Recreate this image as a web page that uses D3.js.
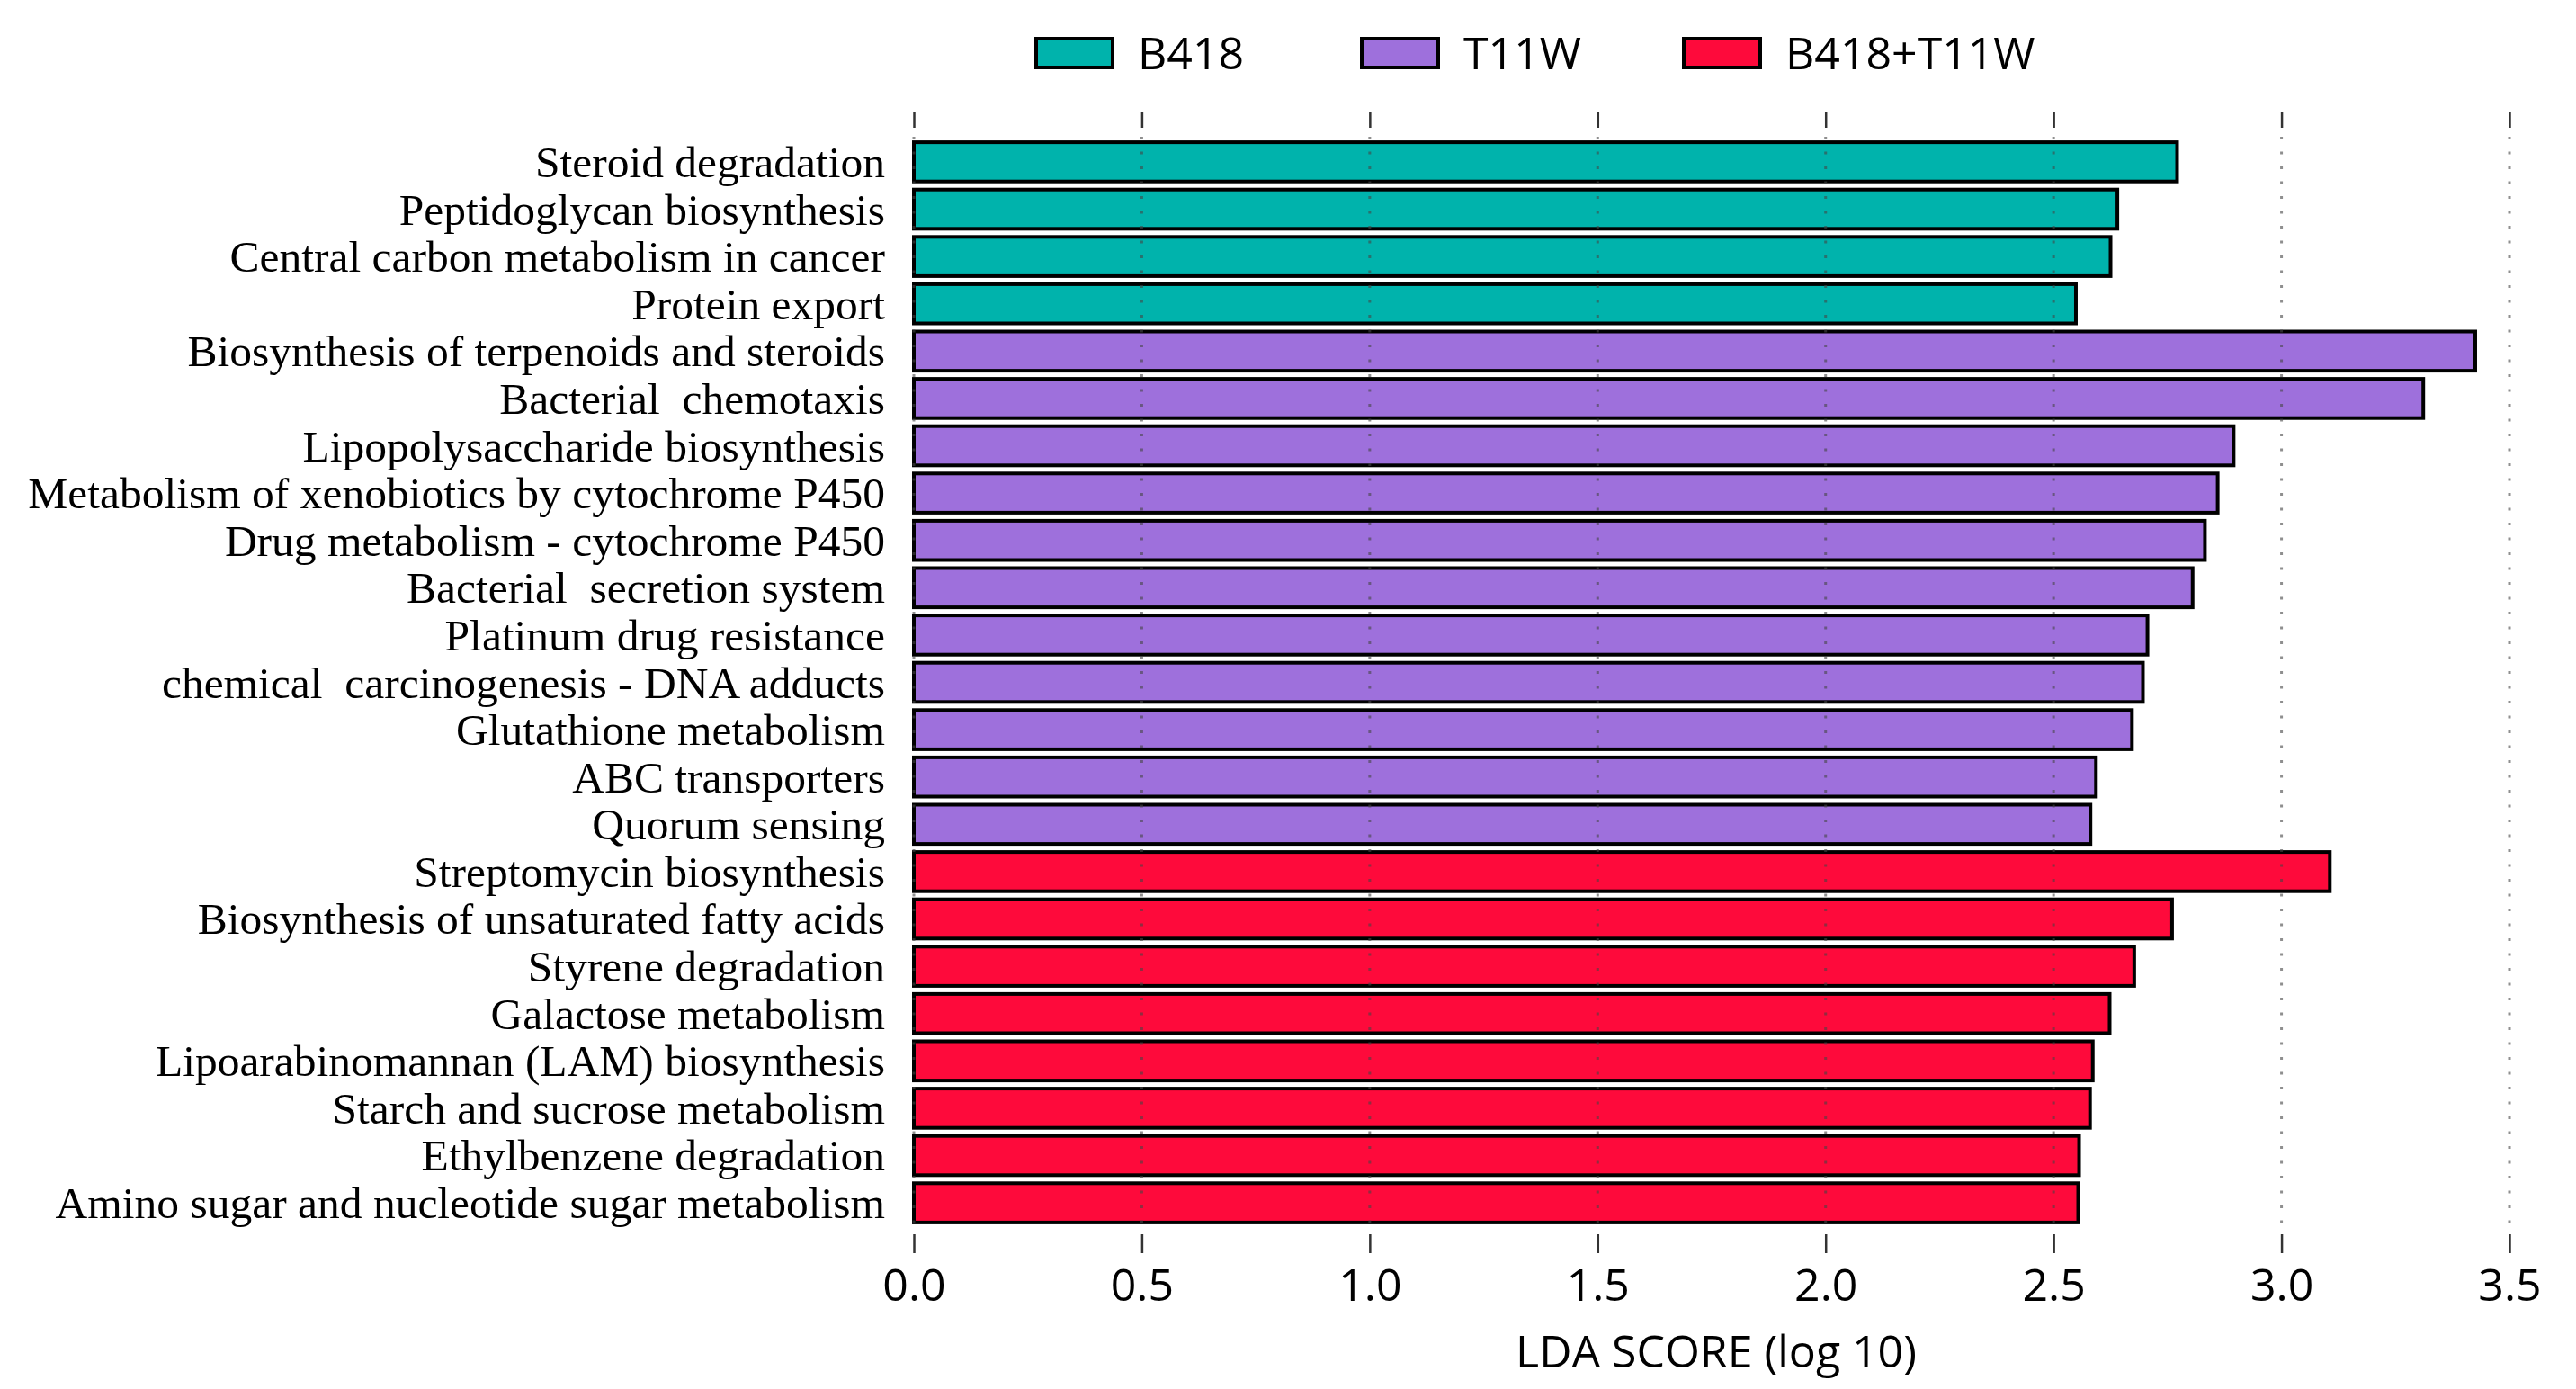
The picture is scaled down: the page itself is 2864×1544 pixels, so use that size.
<!DOCTYPE html>
<html>
<head>
<meta charset="utf-8">
<script src="https://cdn.jsdelivr.net/npm/d3@7/dist/d3.min.js"></script>
<style>
  html, body { margin: 0; padding: 0; background: #fff; }
  svg { display: block; }
</style>
</head>
<body>
<svg id="chart" width="2864" height="1544"></svg>
<script>
// ---- data ----
const categories = [
  "Steroid degradation",
  "Peptidoglycan biosynthesis",
  "Central carbon metabolism in cancer",
  "Protein export",
  "Biosynthesis of terpenoids and steroids",
  "Bacterial  chemotaxis",
  "Lipopolysaccharide biosynthesis",
  "Metabolism of xenobiotics by cytochrome P450",
  "Drug metabolism - cytochrome P450",
  "Bacterial  secretion system",
  "Platinum drug resistance",
  "chemical  carcinogenesis - DNA adducts",
  "Glutathione metabolism",
  "ABC transporters",
  "Quorum sensing",
  "Streptomycin biosynthesis",
  "Biosynthesis of unsaturated fatty acids",
  "Styrene degradation",
  "Galactose metabolism",
  "Lipoarabinomannan (LAM) biosynthesis",
  "Starch and sucrose metabolism",
  "Ethylbenzene degradation",
  "Amino sugar and nucleotide sugar metabolism"
];
const ldaValues = [
  2.771, 2.640, 2.625, 2.549,
  3.425, 3.311, 2.895, 2.860, 2.832, 2.805, 2.706, 2.696, 2.672, 2.593, 2.581,
  3.106, 2.760, 2.677, 2.623, 2.586, 2.580, 2.556, 2.554
];
const groupOfCategory = [
  "B418", "B418", "B418", "B418",
  "T11W", "T11W", "T11W", "T11W", "T11W", "T11W", "T11W", "T11W", "T11W", "T11W", "T11W",
  "B418+T11W", "B418+T11W", "B418+T11W", "B418+T11W", "B418+T11W", "B418+T11W", "B418+T11W", "B418+T11W"
];
const groups = ["B418", "T11W", "B418+T11W"];
const groupColors = ["#00b3ac", "#9e70dc", "#fe0a3b"];
const xTicks = [0, 0.5, 1.0, 1.5, 2.0, 2.5, 3.0, 3.5];
const xTitle = "LDA SCORE (log 10)";

// ---- layout ----
const svg = d3.select("#chart");
const rows = categories.map((c, i) => ({ name: c, value: ldaValues[i], group: groupOfCategory[i] }));

const x = d3.scaleLinear().domain([0, 3.5]).range([1016, 2790]);
const y = d3.scaleBand().domain(categories).range([153.5, 1363.5])
  .paddingInner(0.171).paddingOuter(0.0875);
const color = d3.scaleOrdinal().domain(groups).range(groupColors);

// bars
svg.append("g").selectAll("rect").data(rows).join("rect")
  .attr("x", x(0))
  .attr("y", d => y(d.name))
  .attr("width", d => x(d.value) - x(0))
  .attr("height", y.bandwidth())
  .attr("fill", d => color(d.group))
  .attr("stroke", "#000")
  .attr("stroke-width", 4);

// dotted gridlines drawn over bars
svg.append("g").selectAll("line").data(xTicks).join("line")
  .attr("x1", d => x(d)).attr("x2", d => x(d))
  .attr("y1", 152).attr("y2", 1360)
  .attr("stroke", "#444")
  .attr("stroke-opacity", 0.6)
  .attr("stroke-width", 3)
  .attr("stroke-dasharray", "3,13.5");

// top ticks
const topAxis = svg.append("g").attr("transform", "translate(0,142)")
  .call(d3.axisTop(x).tickValues(xTicks).tickSize(17).tickFormat(""));
topAxis.select(".domain").remove();
topAxis.selectAll(".tick line").attr("stroke", "#333").attr("stroke-width", 2.5);

// bottom axis
const botAxis = svg.append("g").attr("transform", "translate(0,1372)")
  .call(d3.axisBottom(x).tickValues(xTicks).tickSize(21).tickPadding(17).tickFormat(d3.format(".1f")));
botAxis.select(".domain").remove();
botAxis.selectAll(".tick line").attr("stroke", "#333").attr("stroke-width", 2.5);
botAxis.selectAll(".tick text")
  .attr("font-family", "'Open Sans', 'Noto Sans', sans-serif")
  .attr("font-size", 50)
  .attr("fill", "#000");

// axis title
svg.append("text")
  .attr("x", 1908).attr("y", 1520)
  .attr("text-anchor", "middle")
  .attr("font-family", "'Open Sans', 'Noto Sans', sans-serif")
  .attr("font-size", 50)
  .attr("fill", "#000")
  .text(xTitle);

// category labels
svg.append("g").selectAll("text").data(rows).join("text")
  .attr("x", 984)
  .attr("y", d => y(d.name) + y.bandwidth() / 2 + 17)
  .attr("text-anchor", "end")
  .attr("font-family", "'Liberation Serif', 'Times New Roman', serif")
  .attr("font-size", 49.5)
  .attr("fill", "#000")
  .attr("xml:space", "preserve")
  .style("white-space", "pre")
  .text(d => d.name);

// legend
const legendX = [1152, 1514, 1872];
const lg = svg.append("g").selectAll("g").data(groups).join("g")
  .attr("transform", (d, i) => `translate(${legendX[i]},43)`);
lg.append("rect")
  .attr("width", 85).attr("height", 32)
  .attr("fill", d => color(d))
  .attr("stroke", "#000").attr("stroke-width", 4);
lg.append("text")
  .attr("x", 113).attr("y", 34)
  .attr("font-family", "'Open Sans', 'Noto Sans', sans-serif")
  .attr("font-size", 50)
  .attr("fill", "#000")
  .text(d => d);
</script>
</body>
</html>
